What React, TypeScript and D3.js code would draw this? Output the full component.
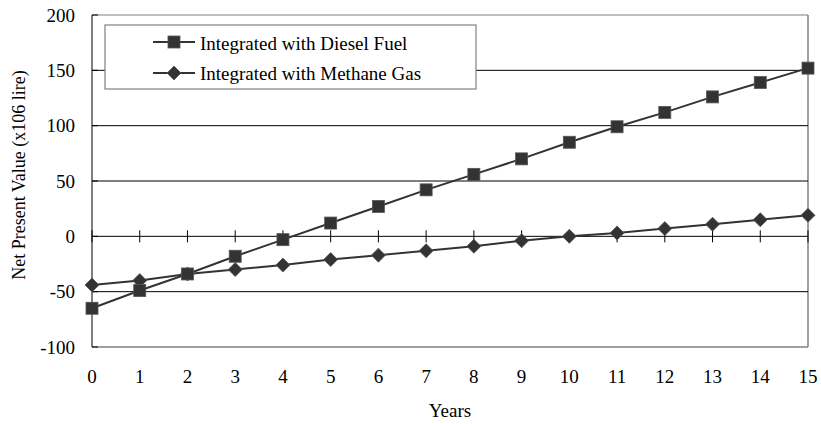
import React from "react";
import * as d3 from "d3";

const years = [0, 1, 2, 3, 4, 5, 6, 7, 8, 9, 10, 11, 12, 13, 14, 15];
const diesel = [-65, -49, -34, -18, -3, 12, 27, 42, 56, 70, 85, 99, 112, 126, 139, 152];
const methane = [-44, -40, -34, -30, -26, -21, -17, -13, -9, -4, 0, 3, 7, 11, 15, 19];
const yTicks = [-100, -50, 0, 50, 100, 150, 200];
const gridValues = [-50, 50, 100, 150];
const seriesNames = ["Integrated with Diesel Fuel", "Integrated with Methane Gas"];

const W = 821, H = 424;
const L = 92, R = 808, T = 15, B = 347;
const FONT = "Liberation Serif, DejaVu Serif, serif";
const FS = 19;

export default function App() {
  const x = d3.scaleLinear().domain([0, 15]).range([L, R]);
  const y = d3.scaleLinear().domain([-100, 200]).range([B, T]);
  const line = d3.line<number>().x((_, i) => x(years[i])).y((d) => y(d));
  const fill = "#333333";
  const sq = (cx: number, cy: number, k: string) => (
    <rect key={k} x={cx - 6} y={cy - 6} width={12} height={12} fill={fill} stroke="#555" strokeWidth={0.8} />
  );
  const dia = (cx: number, cy: number, k: string) => (
    <path key={k} d={`M${cx},${cy - 7}L${cx + 7},${cy}L${cx},${cy + 7}L${cx - 7},${cy}Z`} fill={fill} stroke="#555" strokeWidth={0.8} />
  );
  const ts = { fontFamily: FONT };
  return (
    <svg width={W} height={H} style={{ position: "absolute", left: 0, top: 0, fontFamily: FONT }}>
      <rect x={0} y={0} width={W} height={H} fill="#fff" />
      <line x1={L} y1={T} x2={R} y2={T} stroke="#808080" strokeWidth={1.2} />
      <line x1={R} y1={T} x2={R} y2={B} stroke="#808080" strokeWidth={1.5} />
      <line x1={L} y1={B} x2={R} y2={B} stroke="#808080" strokeWidth={1.5} />
      {gridValues.map((v) => (
        <line key={v} x1={L} x2={R} y1={y(v)} y2={y(v)} stroke="#000" strokeWidth={1} />
      ))}
      <line x1={L} x2={R} y1={y(0)} y2={y(0)} stroke="#000" strokeWidth={1} />
      {years.map((v) => (
        <line key={v} x1={x(v)} x2={x(v)} y1={y(0) - 6} y2={y(0) + 6} stroke="#000" strokeWidth={1} />
      ))}
      <line x1={L} x2={L} y1={T} y2={B} stroke="#000" strokeWidth={1} />
      {yTicks.map((v) => (
        <g key={v}>
          <line x1={L} x2={L + 6} y1={y(v)} y2={y(v)} stroke="#000" strokeWidth={1} />
          <text x={75} y={y(v)} dy="0.35em" textAnchor="end" fontSize={FS} fill="#000" style={ts}>{v}</text>
        </g>
      ))}
      {years.map((v) => (
        <text key={v} x={x(v)} y={383} textAnchor="middle" fontSize={FS} fill="#000" style={ts}>{v}</text>
      ))}
      <text x={450} y={417} textAnchor="middle" fontSize={FS} fill="#000" style={ts}>Years</text>
      <text transform={`translate(25,175) rotate(-90)`} textAnchor="middle" fontSize={18} fill="#000" style={ts}>Net Present Value (x106 lire)</text>
      <path d={line(diesel) || ""} fill="none" stroke={fill} strokeWidth={2} />
      <path d={line(methane) || ""} fill="none" stroke={fill} strokeWidth={2} />
      {methane.map((v, i) => dia(x(years[i]), y(v), "m" + i))}
      {diesel.map((v, i) => sq(x(years[i]), y(v), "d" + i))}
      <rect x={105} y={25} width={371} height={64} fill="#fff" stroke="#808080" strokeWidth={1.2} />
      <line x1={153} x2={195} y1={42} y2={42} stroke={fill} strokeWidth={2} />
      {sq(174, 42, "ls")}
      <text x={200} y={50} fontSize={FS} fill="#000" style={ts}>{seriesNames[0]}</text>
      <line x1={153} x2={195} y1={73} y2={73} stroke={fill} strokeWidth={2} />
      {dia(174, 73, "ld")}
      <text x={200} y={80} fontSize={FS} fill="#000" style={ts}>{seriesNames[1]}</text>
    </svg>
  );
}
